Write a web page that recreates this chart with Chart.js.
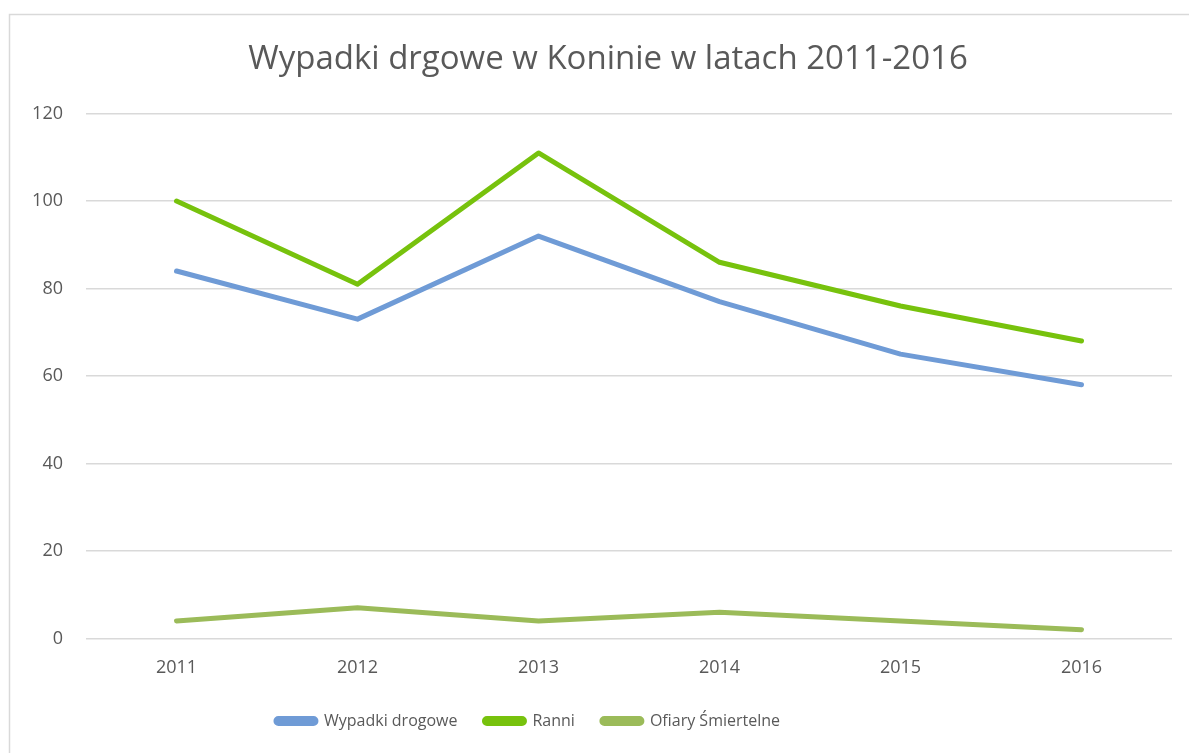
<!DOCTYPE html>
<html>
<head>
<meta charset="utf-8">
<script src="https://cdn.jsdelivr.net/npm/chart.js@4"></script>
<style>
  html, body { margin: 0; padding: 0; background: #fff; }
  #wrap { position: absolute; left: 0; top: 0; width: 1189px; height: 753px; }
</style>
</head>
<body>
<div id="wrap"><canvas id="myChart" width="1189" height="753"></canvas></div>
<script>
const years = ['2011', '2012', '2013', '2014', '2015', '2016']
const wypadki = [84, 73, 92, 77, 65, 58]
const ranni = [100, 81, 111, 86, 76, 68]
const ofiary = [4, 7, 4, 6, 4, 2]
const yTicks = [0, 20, 40, 60, 80, 100, 120]

const textGray = '#595959'
const font = "'Open Sans', sans-serif"

// light grey frame round the whole chart, like the office chart border
const framePlugin = {
  id: 'frame',
  beforeDraw(chart) {
    const c = chart.ctx
    c.save()
    c.fillStyle = '#fff'
    c.fillRect(0, 0, chart.width, chart.height)
    c.strokeStyle = '#d9d9d9'
    c.lineWidth = 1.5
    c.strokeRect(9.5, 14.5, chart.width + 20, chart.height + 20)
    c.restore()
  }
}

// title and legend in the original are not centred on the canvas
const shiftPlugin = {
  id: 'shift',
  afterLayout(chart) {
    chart.titleBlock.left += 12
    chart.titleBlock.right += 12
    chart.legend.left -= 68
    chart.legend.right -= 68
    chart.legend.top -= 12
    chart.legend.bottom -= 12
  }
}

const ctx = document.getElementById('myChart').getContext('2d')

const myChart = new Chart(ctx, {
  type: 'line',
  data: {
    labels: years,
    datasets: [
      { label: 'Wypadki drogowe', data: wypadki, borderColor: '#6f9bd6', backgroundColor: '#6f9bd6' },
      { label: 'Ranni', data: ranni, borderColor: '#77c20d', backgroundColor: '#77c20d' },
      { label: 'Ofiary Śmiertelne', data: ofiary, borderColor: '#9bbb59', backgroundColor: '#9bbb59' }
    ]
  },
  options: {
    responsive: false,
    animation: false,
    events: [],
    layout: { padding: { left: 20, right: 17, top: 0, bottom: 2 } },
    elements: {
      line: { borderWidth: 5, tension: 0, borderCapStyle: 'round', borderJoinStyle: 'round' },
      point: { radius: 0, hoverRadius: 0 }
    },
    plugins: {
      title: {
        display: true,
        text: 'Wypadki drgowe w Koninie w latach 2011-2016',
        color: textGray,
        font: { family: font, size: 33, weight: 'normal' },
        padding: { top: 40, bottom: 34 }
      },
      legend: {
        position: 'bottom',
        labels: {
          color: textGray,
          font: { family: font, size: 16 },
          boxWidth: 40,
          boxHeight: 5,
          useBorderRadius: true,
          borderRadius: 2.5,
          padding: 27
        }
      },
      tooltip: { enabled: false }
    },
    scales: {
      x: {
        offset: true,
        grid: { display: false, drawTicks: false },
        border: { display: false },
        ticks: { color: textGray, font: { family: font, size: 18 }, padding: 19 }
      },
      y: {
        min: 0,
        max: 120,
        afterBuildTicks(axis) { axis.ticks = yTicks.map(v => ({ value: v })) },
        afterFit(axis) { axis.width = 66 },
        grid: { color: '#d9d9d9', lineWidth: 1.5, drawTicks: false },
        border: { display: false },
        ticks: { color: textGray, font: { family: font, size: 18 }, padding: 23 }
      }
    }
  },
  plugins: [framePlugin, shiftPlugin]
})
</script>
</body>
</html>
